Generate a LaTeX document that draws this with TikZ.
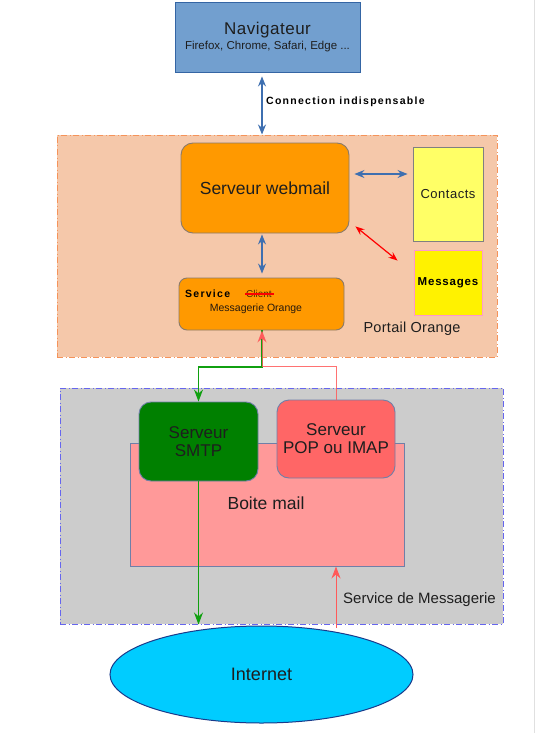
\documentclass[tikz,border=0pt]{standalone}
\usepackage{fontspec}
\setmainfont{Liberation Sans}
\newfontfamily\spaced[LetterSpace=12]{Liberation Sans}
\newfontfamily\spacedb[LetterSpace=7]{Liberation Sans}
\newcommand\fsz[1]{\fontsize{#1}{#1}\selectfont}
\usetikzlibrary{arrows.meta,calc,shapes.geometric}
\definecolor{navfill}{HTML}{729FCF}
\definecolor{navline}{HTML}{3465A4}
\definecolor{portfill}{HTML}{F5C8AA}
\definecolor{portline}{HTML}{F5935A}
\definecolor{webfill}{HTML}{FF9900}
\definecolor{webline}{HTML}{8A7A6A}
\definecolor{contfill}{HTML}{FFFF66}
\definecolor{msgline}{HTML}{FF99CC}
\definecolor{arrblue}{HTML}{3E6FB0}
\definecolor{msgrfill}{HTML}{CCCCCC}
\definecolor{msgrline}{HTML}{6666EE}
\definecolor{smtpfill}{HTML}{008000}
\definecolor{boxline}{HTML}{6F7FA8}
\definecolor{popfill}{HTML}{FF6666}
\definecolor{boitefill}{HTML}{FF9999}
\definecolor{netfill}{HTML}{00CCFF}
\definecolor{netline}{HTML}{1A3A8A}
\definecolor{txt}{HTML}{1E1E1E}
\definecolor{lgreen}{HTML}{10A010}
\definecolor{lred}{HTML}{FF5A5A}
\tikzset{
  fs/.style={font=\fsz{#1}},
  box/.style={draw, line width=0.9pt, inner sep=0pt, text=txt},
  bluearr/.style={draw=arrblue, line width=1.1pt, {Stealth[length=10pt,width=8pt]}-{Stealth[length=10pt,width=8pt]}},
  redarr/.style={draw=red, line width=1.2pt, {Stealth[length=9pt,width=7pt]}-{Stealth[length=9pt,width=7pt]}},
  greenline/.style={draw=lgreen, line width=1.1pt, -{Stealth[length=12pt,width=9pt]}},
  redline/.style={draw=lred, line width=1pt, -{Stealth[length=12pt,width=9pt]}},
}
\begin{document}
\begin{tikzpicture}[x=1pt,y=-1pt]
\useasboundingbox (0,0) rectangle (542,733);
\fill[white] (0,0) rectangle (542,733);
\draw[draw=black!12, line width=1pt] (534,0) -- (534,733);

% containers
\node[box, fill=portfill, draw=portline, dash pattern=on 6pt off 2.5pt on 1pt off 2.5pt, line width=1pt, minimum width=440pt, minimum height=222pt] (portail) at (277,246) {};
\node[box, fill=msgrfill, draw=msgrline, dash pattern=on 6pt off 2.5pt on 1pt off 2.5pt, line width=1pt, minimum width=443pt, minimum height=236pt] (msgr) at (281.5,506) {};

% navigateur
\node[box, fill=navfill, draw=navline, minimum width=185pt, minimum height=70pt, align=center] (nav) at (267.5,37)
  {{\fsz{17}\addfontfeatures{LetterSpace=3}Navigateur}\\[3pt]{\fsz{11.5}Firefox, Chrome, Safari, Edge ...}};

% portail
\node[box, fill=webfill, draw=webline, rounded corners=12pt, minimum width=168pt, minimum height=90pt, fs=17.5] (webmail) at (265,188) {Serveur webmail};
\node[box, fill=contfill, draw=gray, minimum width=70pt, minimum height=94pt, fs=13] (contacts) at (448,194) {\addfontfeatures{LetterSpace=4}Contacts};
\node[box, fill=yellow, draw=msgline, minimum width=68pt, minimum height=65pt, text=black] (messages) at (448,282.5) {\spacedb\fsz{11.5}\bfseries Messages};
\node[box, fill=webfill, draw=webline, rounded corners=8pt, minimum width=165pt, minimum height=52pt] (service) at (261.5,304) {};
\node[anchor=west, inner sep=0pt, text=black] (svc) at (185,294) {\spaced\fsz{10.5}\bfseries Service};
\node[anchor=west, inner sep=0pt, text=black!70!webfill] (client) at (246,294) {\fsz{10}Client};
\draw[red, line width=1.2pt] ([xshift=-1pt]client.west) -- ([xshift=2pt]client.east);
\node[inner sep=0pt, text=black!80!brown] (msgo) at (256,309) {\fsz{10.5}Messagerie Orange};
\node[inner sep=0pt, text=txt] (portlbl) at (412,329) {\fsz{14.5}\addfontfeatures{LetterSpace=2}Portail Orange};

% messagerie
\node[box, fill=boitefill, draw=boxline, minimum width=274pt, minimum height=123pt] (boite) at (267,504.5) {};
\node[inner sep=0pt, text=txt] (boitelbl) at (266,503) {\fsz{17.5}Boite mail};
\node[box, fill=smtpfill, draw=boxline, rounded corners=12pt, minimum width=119pt, minimum height=79pt, align=center, fs=17] (smtp) at (198.5,441.5) {Serveur\\[1pt]SMTP};
\node[box, fill=popfill, draw=boxline, rounded corners=12pt, minimum width=118pt, minimum height=78pt, align=center, fs=17] (pop) at (336,439) {Serveur\\[1pt]POP ou IMAP};
\node[inner sep=0pt, text=txt] (msgrlbl) at (419.5,600) {\fsz{15}Service de Messagerie};

% internet
\node[ellipse, draw=netline, line width=1pt, fill=netfill, minimum width=303pt, minimum height=97pt, inner sep=0pt, text=txt, fs=18] (internet) at (261.5,674.5) {Internet};

% connectors
\draw[bluearr, shorten <=4pt] (nav.south -| 262,0) -- (portail.north -| 262,0);
\node[anchor=west, inner sep=0pt, text=black] (conn) at (266,102) {\spaced\fsz{10.5}\bfseries Connection indispensable};
\draw[bluearr, shorten <=1pt, shorten >=4pt] (webmail.south -| 262,0) -- (service.north -| 262,0);
\draw[bluearr] ($(webmail.east)+(5,-14)$) -- ($(contacts.west)+(-5,-20)$);
\draw[redarr] ($(webmail.south east)+(6,-7)$) -- ($(messages.north west)+(-16,11)$);

\coordinate (j) at (262,367);
\draw[greenline] (service.south -| j) -- (j) -| (smtp.north);
\draw[redline, draw opacity=0.85] (pop.north) |- ($(j)+(0,-1)$) -- (service.south -| j);
\draw[greenline] (smtp.south) -- (smtp.south |- msgr.south);
\draw[redline] (msgr.south -| pop.south) ++(0,3) -- (boite.south -| pop.south);
\end{tikzpicture}
\end{document}
